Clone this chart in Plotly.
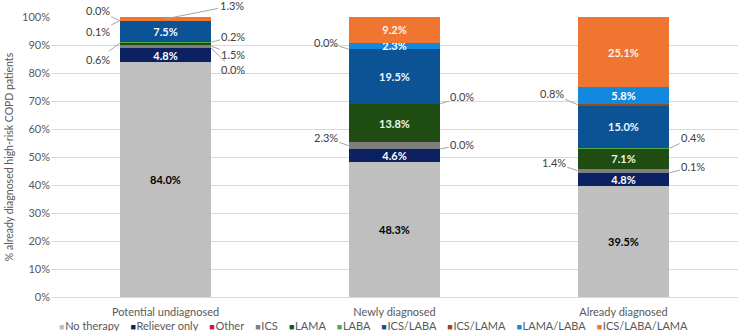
import plotly.graph_objects as go

# ---------------- data ----------------
categories = ["Potential undiagnosed", "Newly diagnosed", "Already diagnosed"]
series_names = ["No therapy", "Reliever only", "Other", "ICS", "LAMA", "LABA",
                "ICS/LABA", "ICS/LAMA", "LAMA/LABA", "ICS/LABA/LAMA"]
no_therapy    = [84.0, 48.3, 39.5]
reliever_only = [4.8, 4.6, 4.8]
other         = [0.0, 0.0, 0.1]
ics           = [1.5, 2.3, 1.4]
lama          = [0.6, 13.8, 7.1]
laba          = [0.2, 0.0, 0.4]
ics_laba      = [7.5, 19.5, 15.0]
ics_lama      = [0.1, 0.0, 0.8]
lama_laba     = [0.0, 2.3, 5.8]
ics_laba_lama = [1.3, 9.2, 25.1]
series_values = [no_therapy, reliever_only, other, ics, lama, laba,
                 ics_laba, ics_lama, lama_laba, ics_laba_lama]
y_ticks = [0, 10, 20, 30, 40, 50, 60, 70, 80, 90, 100]
y_tick_labels = [f"{t}%" for t in y_ticks]

# ---------------- style ----------------
colors = ["#BFBFBF", "#0B2161", "#D0104C", "#7F7F7F", "#1F4D14", "#52A846",
          "#0B5394", "#9A4A14", "#1289DE", "#F07530"]
inside_font_colors = ["#000000", "#FFFFFF", "#FFFFFF", "#FFFFFF", "#F0F8E8", "#FFFFFF",
                      "#F0F6FF", "#FFFFFF", "#FFFFFF", "#FFF4E8"]
# label placement per series per category: 'in', 'L' (left with leader), 'R' (right with leader)
placement = [
    ["in", "in", "in"],   # No therapy
    ["in", "in", "in"],   # Reliever only
    ["R", "R", "R"],      # Other
    ["R", "L", "L"],      # ICS
    ["L", "in", "in"],    # LAMA
    ["R", "R", "R"],      # LABA
    ["in", "in", "in"],   # ICS/LABA
    ["L", "L", "L"],      # ICS/LAMA
    ["L", "in", "in"],    # LAMA/LABA
    ["R", "in", "in"],    # ICS/LABA/LAMA
]
# pixel offsets of outside labels (ax, ay) relative to their leader anchor
offsets = {
    (2, 0): (22, 21), (3, 0): (22, 8), (4, 0): (-22, 16), (5, 0): (22, -6),
    (7, 0): (-22, 11), (8, 0): (-22, -10), (9, 0): (66, -13),
    (2, 1): (22, -4), (3, 1): (-23, -8), (5, 1): (22, -7), (7, 1): (-23, -7),
    (2, 2): (24, -6), (3, 2): (-24, -8), (5, 2): (24, -11), (7, 2): (-26, -11),
}
BAR_WIDTH = 0.4
FONT = "Lato, 'Liberation Sans', sans-serif"
GREY_TEXT = "#595959"

fig = go.Figure()
x_idx = list(range(len(categories)))

for s, (name, vals) in enumerate(zip(series_names, series_values)):
    texts = [f"<b>{v:.1f}%</b>" if placement[s][c] == "in" else "" for c, v in enumerate(vals)]
    fig.add_trace(go.Bar(
        name=name, x=x_idx, y=vals, width=BAR_WIDTH,
        marker=dict(color=colors[s], line=dict(width=0)),
        text=texts, textposition="inside", insidetextanchor="middle",
        textangle=0, textfont=dict(color=inside_font_colors[s], size=11, family=FONT),
        showlegend=False, hoverinfo="skip",
    ))

annotations = []
for c in range(len(categories)):
    cum = 0.0
    for s, vals in enumerate(series_values):
        v = vals[c]
        mid = cum + v / 2.0
        cum += v
        side = placement[s][c]
        if side == "in":
            continue
        ax, ay = offsets[(s, c)]
        if s == 9 and c == 0:
            x_anchor = c
        else:
            x_anchor = c + (BAR_WIDTH / 2 if side == "R" else -BAR_WIDTH / 2)
        annotations.append(dict(
            x=x_anchor, y=mid, xref="x", yref="y",
            text=f"{v:.1f}%", showarrow=True, arrowhead=0, arrowwidth=1,
            arrowcolor="#A6A6A6", ax=ax, ay=ay, standoff=0,
            font=dict(size=11, color="#404040", family=FONT),
        ))

# custom single-row legend built from series names/colours
legend_parts = [
    f"<span style='color:{col};font-size:9px'>■</span>&#8202;{nm}"
    for nm, col in zip(series_names, colors)
]
legend_text = "&nbsp;&nbsp;&nbsp;&nbsp;".join(legend_parts)
annotations.append(dict(
    x=0.5, y=0, xref="paper", yref="paper", xanchor="center", yanchor="top",
    xshift=-21, yshift=-20, text=legend_text, showarrow=False,
    font=dict(size=11, color=GREY_TEXT, family=FONT),
))

fig.update_layout(
    barmode="stack",
    width=738, height=331,
    margin=dict(l=51, r=0, t=17, b=34),
    paper_bgcolor="white", plot_bgcolor="white",
    font=dict(family=FONT, size=11, color=GREY_TEXT),
    uniformtext=dict(minsize=11, mode="show"),
    annotations=annotations,
    showlegend=False,
)
fig.update_xaxes(
    tickmode="array", tickvals=x_idx, ticktext=categories,
    range=[-0.5, len(categories) - 0.5],
    showgrid=False, showline=False, zeroline=False, ticks="",
    tickfont=dict(size=11, color=GREY_TEXT, family=FONT), ticklabelstandoff=7,
)
fig.update_yaxes(
    range=[0, 100], tickmode="array", tickvals=y_ticks, ticktext=y_tick_labels,
    showgrid=True, gridcolor="#D9D9D9", gridwidth=1, zeroline=True,
    zerolinecolor="#D9D9D9", zerolinewidth=1, showline=False, ticks="",
    tickfont=dict(size=11, color=GREY_TEXT, family=FONT),
    title=dict(text="% already diagnosed high-risk COPD patients",
               font=dict(size=10.5, color=GREY_TEXT, family=FONT), standoff=6),
)

fig.write_html("out.html", config={"displayModeBar": False},
               post_script="document.body.style.margin='0';document.body.style.overflow='hidden';")
